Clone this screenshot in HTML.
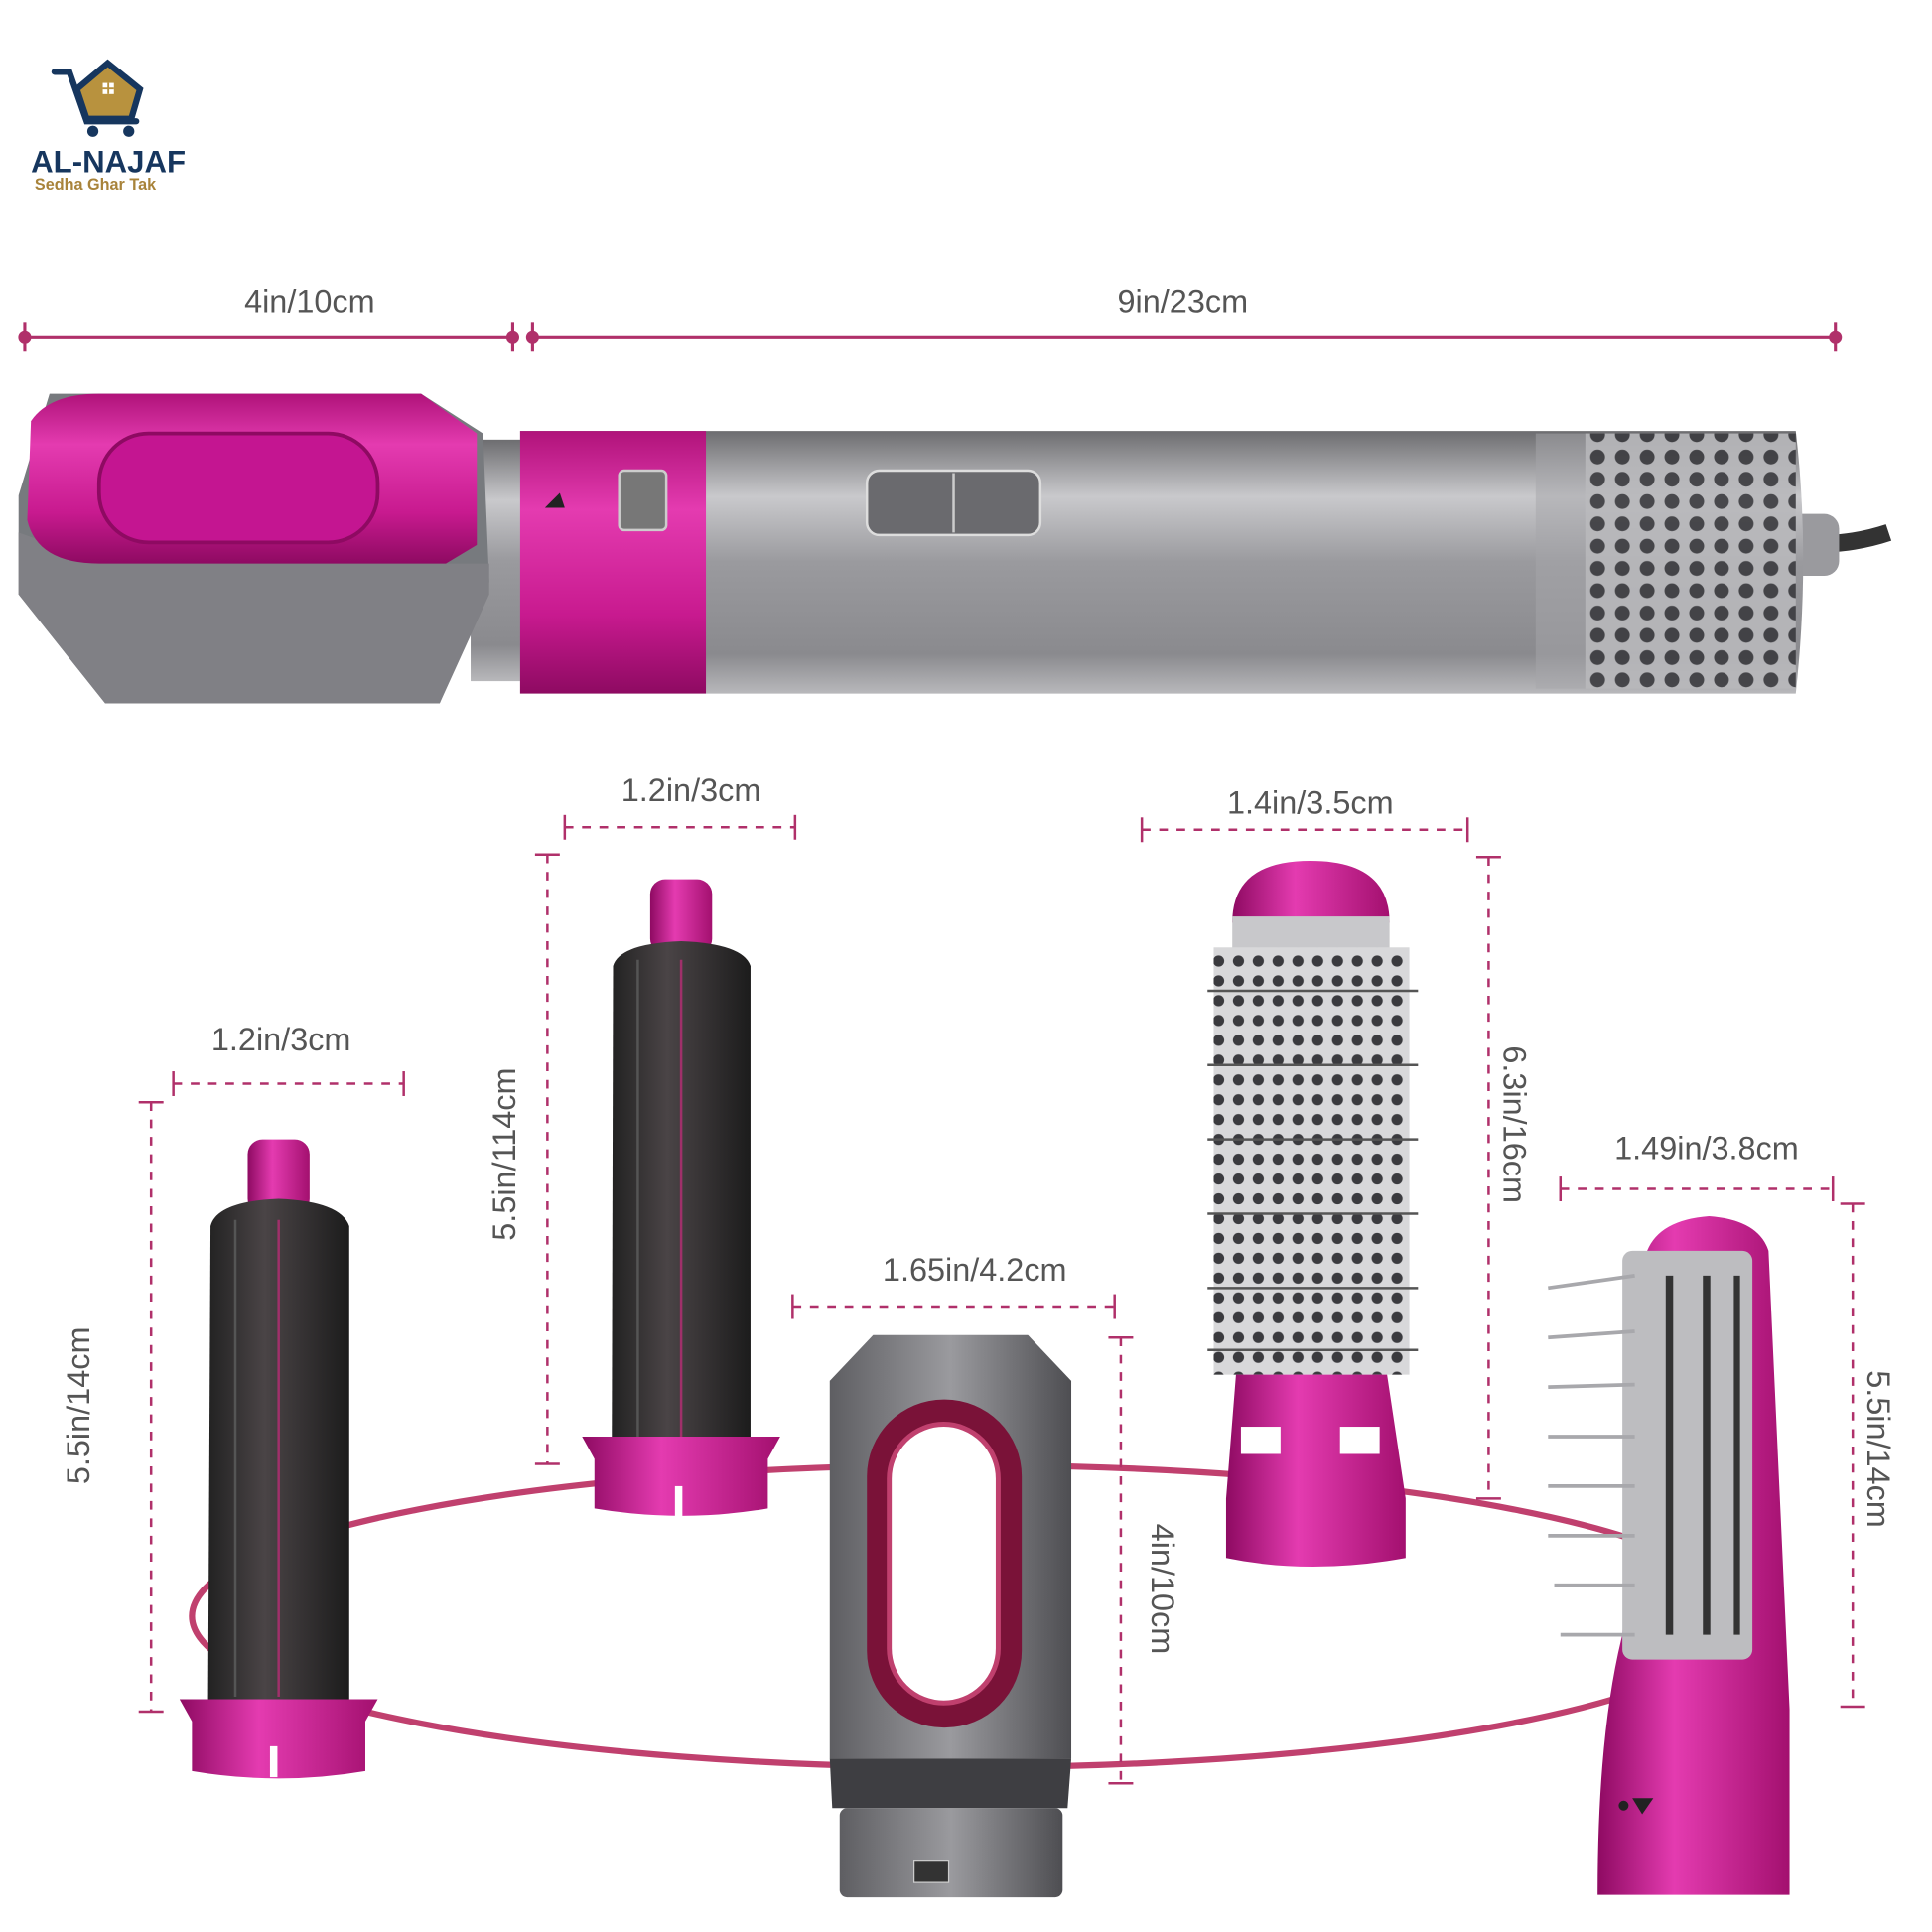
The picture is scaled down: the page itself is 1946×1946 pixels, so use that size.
<!DOCTYPE html>
<html><head><meta charset="utf-8"><style>
html,body{margin:0;padding:0;background:#fff}
svg{display:block}
text{font-family:"Liberation Sans",sans-serif}
</style></head><body>
<svg width="1946" height="1946" viewBox="0 0 1560 1560" xmlns="http://www.w3.org/2000/svg">
<defs>
<linearGradient id="gbody" x1="0" y1="0" x2="0" y2="1">
<stop offset="0" stop-color="#6d6d70"/><stop offset="0.25" stop-color="#c9c9cc"/><stop offset="0.5" stop-color="#9a9a9e"/><stop offset="0.85" stop-color="#8a8a8e"/><stop offset="1" stop-color="#b8b8bb"/></linearGradient>
<linearGradient id="gpink" x1="0" y1="0" x2="0" y2="1">
<stop offset="0" stop-color="#b0137a"/><stop offset="0.3" stop-color="#e43bb0"/><stop offset="0.7" stop-color="#c81a8f"/><stop offset="1" stop-color="#8e0a62"/></linearGradient>
<linearGradient id="gpinkh" x1="0" y1="0" x2="1" y2="0">
<stop offset="0" stop-color="#8e0a62"/><stop offset="0.4" stop-color="#e43bb0"/><stop offset="1" stop-color="#a3106f"/></linearGradient>
<linearGradient id="gdark" x1="0" y1="0" x2="1" y2="0">
<stop offset="0" stop-color="#222"/><stop offset="0.4" stop-color="#4a4446"/><stop offset="1" stop-color="#1c1c1c"/></linearGradient>
<linearGradient id="ggrey" x1="0" y1="0" x2="1" y2="0">
<stop offset="0" stop-color="#5e5e62"/><stop offset="0.5" stop-color="#9a9a9e"/><stop offset="1" stop-color="#4e4e52"/></linearGradient>
<pattern id="holes" width="20" height="18" patternUnits="userSpaceOnUse">
<rect width="20" height="18" fill="#b8b8bb"/><circle cx="10" cy="9" r="6" fill="#3a3a3e"/></pattern>
<pattern id="bristle" width="16" height="16" patternUnits="userSpaceOnUse">
<rect width="16" height="16" fill="#d8d8da"/><circle cx="8" cy="8" r="4.5" fill="#3a3a3e"/></pattern>
</defs>

<!-- logo -->
<g>
<path d="M44 58 H56 L70 98 H110" fill="none" stroke="#16365e" stroke-width="5" stroke-linecap="round"/>
<path d="M62 72 L87 51 L113 72 L106 96 H70 Z" fill="#b8923e" stroke="#16365e" stroke-width="5"/>
<rect x="83" y="67" width="9" height="9" fill="#fff"/>
<line x1="87.5" y1="67" x2="87.5" y2="76" stroke="#b8923e" stroke-width="1.5"/><line x1="83" y1="71.5" x2="92" y2="71.5" stroke="#b8923e" stroke-width="1.5"/>
<circle cx="75" cy="106" r="4.5" fill="#16365e"/><circle cx="104" cy="106" r="4.5" fill="#16365e"/>
<text x="25" y="139" font-size="25" font-weight="bold" fill="#16365e">AL-NAJAF</text>
<text x="28" y="153" font-size="13" font-weight="bold" fill="#a8833a">Sedha Ghar Tak</text>
</g>

<!-- top dims -->
<g stroke="#b0306a" stroke-width="2.5" fill="#b0306a">
<line x1="20" y1="272" x2="415" y2="272"/><line x1="430" y1="272" x2="1482" y2="272"/>
<line x1="20" y1="260" x2="20" y2="284"/><line x1="414" y1="260" x2="414" y2="284"/><line x1="430" y1="260" x2="430" y2="284"/><line x1="1482" y1="260" x2="1482" y2="284"/>
<circle cx="20" cy="272" r="4"/><circle cx="414" cy="272" r="4"/><circle cx="430" cy="272" r="4"/><circle cx="1482" cy="272" r="4"/>
</g>
<text x="250" y="252" font-size="26" fill="#555" text-anchor="middle">4in/10cm</text>
<text x="955" y="252" font-size="26" fill="#555" text-anchor="middle">9in/23cm</text>

<!-- main dryer -->
<path d="M1450 440 C1490 440 1510 435 1525 430" stroke="#333" stroke-width="14" fill="none"/>
<rect x="1440" y="415" width="45" height="50" rx="12" fill="#9a9a9e"/>
<rect x="380" y="355" width="60" height="195" fill="url(#gbody)"/>
<path d="M420 348 H1450 Q1462 450 1450 560 H420 Z" fill="url(#gbody)"/>
<rect x="1280" y="350" width="170" height="206" fill="url(#holes)" opacity="0.9"/>
<rect x="1240" y="350" width="40" height="206" fill="#a6a6aa" opacity="0.5"/>
<rect x="420" y="348" width="150" height="212" fill="url(#gpink)"/>
<rect x="500" y="380" width="38" height="48" rx="4" fill="#777" stroke="#ccc" stroke-width="2"/>
<polygon points="440,410 452,398 456,410" fill="#222"/>
<rect x="700" y="380" width="140" height="52" rx="10" fill="#6a6a6e" stroke="#ddd" stroke-width="2"/>
<line x1="770" y1="382" x2="770" y2="430" stroke="#ccc" stroke-width="2"/>
<!-- head -->
<path d="M15 400 L40 318 H340 L390 350 L395 470 L355 568 H85 L15 480 Z" fill="#777a7e"/>
<path d="M15 430 L85 455 H395 V480 L355 568 H85 L15 480 Z" fill="#808085"/>
<path d="M25 340 Q40 318 80 318 H340 L385 350 V440 L360 455 H80 Q30 455 22 420 Z" fill="url(#gpink)"/>
<rect x="80" y="350" width="225" height="88" rx="40" fill="#c41591" stroke="#8e0a62" stroke-width="3"/>

<!-- ellipse ring -->
<ellipse cx="780" cy="1305" rx="625" ry="122" fill="none" stroke="#c0406e" stroke-width="5"/>

<!-- dashed dims -->
<g stroke="#b0306a" stroke-width="2" stroke-dasharray="7,7" fill="none">
<line x1="140" y1="875" x2="326" y2="875"/><line x1="122" y1="890" x2="122" y2="1382"/>
<line x1="456" y1="668" x2="642" y2="668"/><line x1="442" y1="690" x2="442" y2="1182"/>
<line x1="640" y1="1055" x2="900" y2="1055"/><line x1="905" y1="1080" x2="905" y2="1440"/>
<line x1="922" y1="670" x2="1185" y2="670"/><line x1="1202" y1="692" x2="1202" y2="1210"/>
<line x1="1260" y1="960" x2="1480" y2="960"/><line x1="1496" y1="972" x2="1496" y2="1378"/>
</g>
<g stroke="#b0306a" stroke-width="2">
<line x1="140" y1="865" x2="140" y2="885"/><line x1="326" y1="865" x2="326" y2="885"/><line x1="112" y1="890" x2="132" y2="890"/><line x1="112" y1="1382" x2="132" y2="1382"/>
<line x1="456" y1="658" x2="456" y2="678"/><line x1="642" y1="658" x2="642" y2="678"/><line x1="432" y1="690" x2="452" y2="690"/><line x1="432" y1="1182" x2="452" y2="1182"/>
<line x1="640" y1="1045" x2="640" y2="1065"/><line x1="900" y1="1045" x2="900" y2="1065"/><line x1="895" y1="1080" x2="915" y2="1080"/><line x1="895" y1="1440" x2="915" y2="1440"/>
<line x1="922" y1="660" x2="922" y2="680"/><line x1="1185" y1="660" x2="1185" y2="680"/><line x1="1192" y1="692" x2="1212" y2="692"/><line x1="1192" y1="1210" x2="1212" y2="1210"/>
<line x1="1260" y1="950" x2="1260" y2="970"/><line x1="1480" y1="950" x2="1480" y2="970"/><line x1="1486" y1="972" x2="1506" y2="972"/><line x1="1486" y1="1378" x2="1506" y2="1378"/>
</g>
<g font-size="26" fill="#555">
<text x="227" y="848" text-anchor="middle">1.2in/3cm</text>
<text x="558" y="647" text-anchor="middle">1.2in/3cm</text>
<text x="787" y="1034" text-anchor="middle">1.65in/4.2cm</text>
<text x="1058" y="657" text-anchor="middle">1.4in/3.5cm</text>
<text x="1378" y="936" text-anchor="middle">1.49in/3.8cm</text>
<text transform="translate(72,1135) rotate(-90)" text-anchor="middle">5.5in/14cm</text>
<text transform="translate(416,932) rotate(-90)" text-anchor="middle">5.5in/114cm</text>
<text transform="translate(930,1283) rotate(90)" text-anchor="middle">4in/10cm</text>
<text transform="translate(1214,908) rotate(90)" text-anchor="middle">6.3in/16cm</text>
<text transform="translate(1508,1170) rotate(90)" text-anchor="middle">5.5in/14cm</text>
</g>

<!-- barrel 1 -->
<rect x="200" y="920" width="50" height="60" rx="12" fill="url(#gpinkh)"/>
<path d="M170 990 Q175 970 225 968 Q275 970 282 990 V1375 H168 Z" fill="url(#gdark)"/>
<line x1="225" y1="985" x2="225" y2="1370" stroke="#a0306a" stroke-width="2"/>
<line x1="190" y1="985" x2="190" y2="1370" stroke="#555" stroke-width="2"/>
<path d="M145 1372 H305 L295 1390 V1430 Q225 1442 155 1430 V1390 Z" fill="url(#gpinkh)"/>
<rect x="218" y="1410" width="6" height="25" fill="#fff"/>

<!-- barrel 2 -->
<rect x="525" y="710" width="50" height="60" rx="12" fill="url(#gpinkh)"/>
<path d="M495 780 Q500 762 550 760 Q600 762 606 780 V1162 H494 Z" fill="url(#gdark)"/>
<line x1="550" y1="775" x2="550" y2="1160" stroke="#a0306a" stroke-width="2"/>
<line x1="515" y1="775" x2="515" y2="1160" stroke="#555" stroke-width="2"/>
<path d="M470 1160 H630 L620 1178 V1218 Q550 1230 480 1218 V1178 Z" fill="url(#gpinkh)"/>
<rect x="545" y="1200" width="6" height="25" fill="#fff"/>

<!-- hood -->
<path d="M705 1078 H830 L865 1115 V1420 H670 V1115 Z" fill="url(#ggrey)"/>
<rect x="700" y="1130" width="125" height="265" rx="62" fill="#7a1238"/>
<rect x="718" y="1150" width="88" height="225" rx="44" fill="#fff" stroke="#c0406e" stroke-width="4"/>
<path d="M670 1420 H865 L862 1460 H672 Z" fill="#3e3e42"/>
<rect x="678" y="1460" width="180" height="72" rx="6" fill="url(#ggrey)"/>
<rect x="738" y="1502" width="28" height="18" fill="#333" stroke="#ccc"/>

<!-- round brush -->
<path d="M995 745 Q995 695 1058 695 Q1122 695 1122 745 Z" fill="url(#gpinkh)"/>
<rect x="995" y="740" width="127" height="30" fill="#c8c8cb"/>
<rect x="980" y="765" width="158" height="345" fill="url(#bristle)"/>
<g stroke="#555" stroke-width="2">
<line x1="975" y1="800" x2="1145" y2="800"/><line x1="975" y1="860" x2="1145" y2="860"/><line x1="975" y1="920" x2="1145" y2="920"/><line x1="975" y1="980" x2="1145" y2="980"/><line x1="975" y1="1040" x2="1145" y2="1040"/><line x1="975" y1="1090" x2="1145" y2="1090"/>
</g>
<path d="M998 1110 H1120 L1135 1210 V1258 Q1058 1272 990 1258 V1210 Z" fill="url(#gpinkh)"/>
<rect x="1002" y="1152" width="32" height="22" fill="#fff"/><rect x="1082" y="1152" width="32" height="22" fill="#fff"/>

<!-- paddle brush -->
<path d="M1290 1530 Q1290 1400 1310 1320 L1330 1010 Q1340 985 1380 982 Q1420 985 1428 1010 L1445 1380 V1530 Z" fill="url(#gpinkh)"/>
<rect x="1310" y="1010" width="105" height="330" rx="8" fill="#bdbdc0"/>
<g stroke="#a8a8ac" stroke-width="3">
<line x1="1250" y1="1040" x2="1320" y2="1030"/><line x1="1250" y1="1080" x2="1320" y2="1075"/><line x1="1250" y1="1120" x2="1320" y2="1118"/><line x1="1250" y1="1160" x2="1320" y2="1160"/><line x1="1250" y1="1200" x2="1320" y2="1200"/><line x1="1250" y1="1240" x2="1320" y2="1240"/><line x1="1255" y1="1280" x2="1320" y2="1280"/><line x1="1260" y1="1320" x2="1320" y2="1320"/>
</g>
<g fill="#333">
<rect x="1345" y="1030" width="6" height="290"/><rect x="1375" y="1030" width="6" height="290"/><rect x="1400" y="1030" width="5" height="290"/>
</g>
<polygon points="1318,1452 1335,1452 1326,1465" fill="#222"/>
<circle cx="1311" cy="1458" r="4" fill="#222"/>
</svg>
</body></html>
